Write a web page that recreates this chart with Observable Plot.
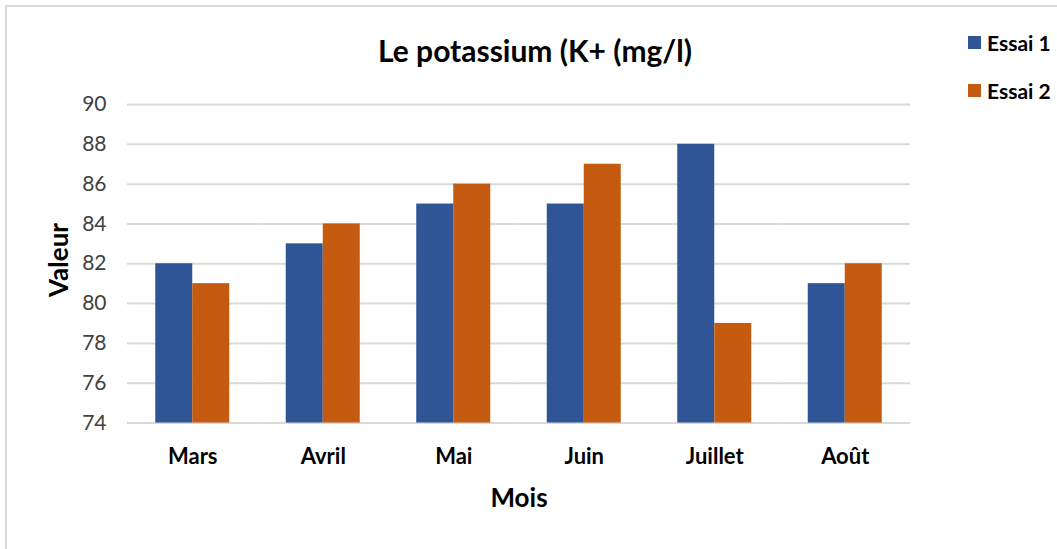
<!DOCTYPE html>
<html>
<head>
<meta charset="utf-8">
<script src="https://cdn.jsdelivr.net/npm/d3@7"></script>
<script src="https://cdn.jsdelivr.net/npm/@observablehq/plot@0.6"></script>
<style>
  html, body { margin: 0; padding: 0; background: #fff; }
  #chart { position: relative; width: 1057px; height: 549px; overflow: hidden; font-family: Lato, "Open Sans", sans-serif; }
  #frame { position: absolute; left: 5px; top: 5px; width: 1100px; height: 600px; border: 2px solid #d9d9d9; box-sizing: border-box; }
  #chart svg { position: absolute; left: 0; top: 0; }
  .lbl { position: absolute; line-height: 1; white-space: nowrap; color: #000; }
  .legend { position: absolute; display: flex; align-items: center; font-weight: bold; font-size: 21px; line-height: 1; color: #000; }
  .legend span.sw { display: inline-block; width: 13px; height: 13px; margin-right: 6px; }
</style>
</head>
<body>
<div id="chart"><div id="frame"></div></div>
<script>
// Potassium measurements per month, two trials
const months = ["Mars", "Avril", "Mai", "Juin", "Juillet", "Août"];
const series = ["Essai 1", "Essai 2"];
const essai1 = [82, 83, 85, 85, 88, 81];
const essai2 = [81, 84, 86, 87, 79, 82];
const yTicks = [74, 76, 78, 80, 82, 84, 86, 88, 90];
const colors = ["#2F5597", "#C55A11"];

const titleText = "Le potassium (K+ (mg/l)";
const xTitle = "Mois";
const yTitle = "Valeur";

const rows = months.flatMap((m, i) => [
  {month: m, series: series[0], value: essai1[i]},
  {month: m, series: series[1], value: essai2[i]}
]);

const chart = Plot.plot({
  width: 1057,
  height: 549,
  marginLeft: 127,
  marginRight: 147,
  marginTop: 104,
  marginBottom: 126.5,
  style: {fontFamily: "Lato, 'Open Sans', sans-serif", background: "transparent", overflow: "visible"},
  fx: {domain: months, padding: 0, round: false, label: null},
  x: {domain: series, paddingInner: 0, paddingOuter: 0.7635, round: false, axis: null},
  y: {domain: [yTicks[0], yTicks[yTicks.length - 1]], label: null},
  color: {domain: series, range: colors},
  marks: [
    Plot.gridY(yTicks, {stroke: "#d9d9d9", strokeOpacity: 1, strokeWidth: 2}),
    Plot.axisY(yTicks, {tickSize: 0, tickPadding: 21, fontSize: 21, fill: "#404040", label: null}),
    Plot.axisFx({anchor: "bottom", tickSize: 0, tickPadding: 25, fontSize: 22, fontWeight: "bold", fill: "#000", label: null}),
    Plot.barY(rows, {fx: "month", x: "series", y1: yTicks[0], y2: "value", fill: "series"})
  ]
});

const root = document.getElementById("chart");
root.appendChild(chart);

function label(text, cx, cy, size, rotate) {
  const d = document.createElement("div");
  d.className = "lbl";
  d.textContent = text;
  d.style.left = cx + "px";
  d.style.top = cy + "px";
  d.style.fontSize = size + "px";
  d.style.fontWeight = "bold";
  d.style.transform = "translate(-50%, -50%)" + (rotate ? " rotate(" + rotate + "deg)" : "");
  root.appendChild(d);
  return d;
}

label(titleText, 535, 50, 30);
label(xTitle, 519, 497, 26);
label(yTitle, 57.5, 260, 26, -90);

// legend on the right
series.forEach((s, i) => {
  const row = document.createElement("div");
  row.className = "legend";
  row.style.left = "968px";
  row.style.top = (32 + i * 48) + "px";
  const sw = document.createElement("span");
  sw.className = "sw";
  sw.style.background = colors[i];
  const t = document.createElement("span");
  t.textContent = s;
  row.appendChild(sw);
  row.appendChild(t);
  root.appendChild(row);
});
</script>
</body>
</html>
